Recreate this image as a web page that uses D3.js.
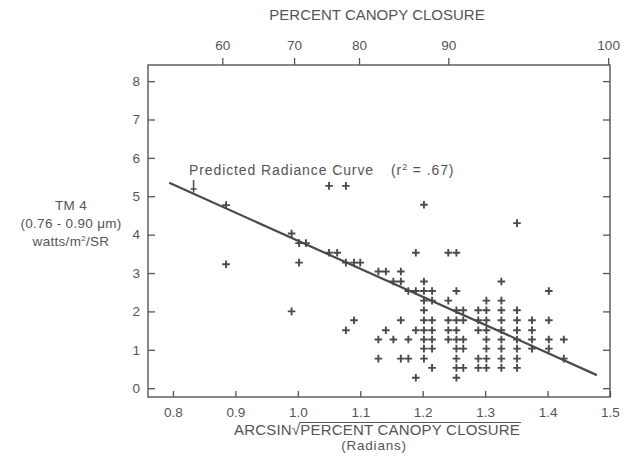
<!DOCTYPE html>
<html>
<head>
<meta charset="utf-8">
<script src="https://cdn.jsdelivr.net/npm/d3@7"></script>
<style>
  body { margin: 0; background: #fff; }
  text { font-family: "Liberation Sans", Arial, sans-serif; fill: #555; }
</style>
</head>
<body>
<div id="main"></div>
<script>
const ctx = {
    width: 633,
    height: 471,
    margin: {top: 65, right: 23, bottom: 74, left: 148}
};

// x of each column of points (radians) and the radiance values in that column
const colX = [0.885, 0.99, 1.002, 1.013, 1.05, 1.063, 1.077, 1.09, 1.10, 1.129, 1.141, 1.153, 1.165,
              1.177, 1.189, 1.202, 1.215, 1.241, 1.254, 1.265, 1.289, 1.302, 1.326, 1.351, 1.375, 1.402, 1.426];
const colY = [
    [4.77, 3.23],
    [4.03, 2.0],
    [3.78, 3.27],
    [3.78],
    [5.27, 3.53],
    [3.53],
    [5.27, 3.27, 1.51],
    [3.27, 1.77],
    [3.27],
    [3.04, 1.27, 0.77],
    [3.04, 1.51],
    [2.78, 1.27],
    [3.04, 2.78, 1.77, 0.77],
    [2.53, 1.27, 0.77],
    [3.53, 2.53, 1.51, 0.27],
    [4.78, 2.78, 2.53, 2.28, 2.03, 1.77, 1.51, 1.27, 1.03, 0.77],
    [2.53, 2.28, 1.77, 1.51, 1.27, 1.03, 0.53],
    [3.53, 2.28, 1.77, 1.51, 1.27],
    [3.53, 2.53, 2.03, 1.77, 1.51, 1.27, 1.03, 0.77, 0.53, 0.27],
    [2.03, 1.77, 1.27, 1.03, 0.53],
    [2.03, 1.77, 1.51, 0.77, 0.53],
    [2.28, 2.03, 1.77, 1.51, 1.27, 1.03, 0.77, 0.53],
    [2.78, 2.28, 2.03, 1.77, 1.51, 1.27, 1.03, 0.77, 0.53],
    [4.3, 2.03, 1.77, 1.51, 1.27, 1.03, 0.77, 0.53],
    [1.77, 1.51, 1.27, 1.03],
    [2.53, 1.77, 1.27, 1.03],
    [1.27, 0.77]
];

// predicted radiance curve
const fitX = [0.794, 1.479];
const fitY = [5.35, 0.34];

// point the annotation arrow marks
const arrowX = 0.833;
const arrowY = 5.19;

const bottomTicks = [0.8, 0.9, 1.0, 1.1, 1.2, 1.3, 1.4, 1.5];
const leftTicks = [0, 1, 2, 3, 4, 5, 6, 7, 8];
// top axis: percent canopy closure labels at their radian position
const topTickPos = [0.879, 0.994, 1.098, 1.241, 1.497];
const topTickLabels = ["60", "70", "80", "90", "100"];

function createViz() {
    const svg = d3.select("#main").append("svg")
        .attr("width", ctx.width)
        .attr("height", ctx.height);

    const x0 = ctx.margin.left, x1 = ctx.width - ctx.margin.right;
    const y0 = ctx.margin.top, y1 = ctx.height - ctx.margin.bottom;

    const x = d3.scaleLinear().domain([0.76, 1.5]).range([x0, x1]);
    const y = d3.scaleLinear().domain([-0.23, 8.42]).range([y1, y0]);

    // axes (ticks inside the frame except on top)
    const bottom = svg.append("g")
        .attr("transform", `translate(0,${y1})`)
        .call(d3.axisBottom(x).tickValues(bottomTicks).tickFormat(d3.format(".1f"))
            .tickSizeInner(-6).tickSizeOuter(0).tickPadding(10));
    const left = svg.append("g")
        .attr("transform", `translate(${x0},0)`)
        .call(d3.axisLeft(y).tickValues(leftTicks).tickSizeInner(-7).tickSizeOuter(0).tickPadding(8));
    const right = svg.append("g")
        .attr("transform", `translate(${x1},0)`)
        .call(d3.axisRight(y).tickValues(leftTicks).tickSizeInner(-7).tickSizeOuter(0).tickFormat(""));
    const top = svg.append("g")
        .attr("transform", `translate(0,${y0})`)
        .call(d3.axisTop(x).tickValues(topTickPos).tickFormat((d, i) => topTickLabels[i])
            .tickSizeInner(7).tickSizeOuter(0).tickPadding(8));

    [bottom, left, right, top].forEach(g => {
        g.select(".domain").remove();
        g.selectAll("line").attr("stroke", "#555").attr("stroke-width", 1.3);
        g.selectAll("text").style("font-size", "13.5px").attr("fill", "#555");
    });

    svg.append("rect")
        .attr("x", x0).attr("y", y0)
        .attr("width", x1 - x0).attr("height", y1 - y0)
        .attr("fill", "none")
        .attr("stroke", "#555")
        .attr("stroke-width", 1.4);

    // regression line
    const line = d3.line().x(d => x(d[0])).y(d => y(d[1]));
    svg.append("path")
        .datum(d3.zip(fitX, fitY))
        .attr("d", line)
        .attr("fill", "none")
        .attr("stroke", "#4a4a4a")
        .attr("stroke-width", 2.2);

    // data points as crosses
    const points = [];
    colX.forEach((cx, i) => colY[i].forEach(v => points.push([cx, v])));
    const r = 3.8;
    svg.append("g").selectAll("path")
        .data(points)
        .enter()
        .append("path")
        .attr("d", d => `M${x(d[0]) - r},${y(d[1])}H${x(d[0]) + r}M${x(d[0])},${y(d[1]) - r}V${y(d[1]) + r}`)
        .attr("stroke", "#4a4a4a")
        .attr("stroke-width", 1.9)
        .attr("fill", "none");

    // annotation
    const ann = svg.append("text")
        .attr("x", 189).attr("y", 175)
        .style("font-size", "14px")
        .style("letter-spacing", "0.9px");
    ann.append("tspan").text("Predicted Radiance Curve");
    ann.append("tspan").attr("x", 391).text("(r");
    ann.append("tspan").attr("dy", -5).style("font-size", "9px").text("2");
    ann.append("tspan").attr("dy", 5).text(" = .67)");

    svg.append("path")
        .attr("d", `M${x(arrowX)},${y(arrowY) - 9}V${y(arrowY) + 3.5}M${x(arrowX) - 3},${y(arrowY)}H${x(arrowX) + 3}`)
        .attr("stroke", "#4a4a4a")
        .attr("stroke-width", 1.5)
        .attr("fill", "none");

    // titles
    svg.append("text")
        .attr("x", 377).attr("y", 20)
        .attr("text-anchor", "middle")
        .style("font-size", "15px")
        .text("PERCENT CANOPY CLOSURE");

    const xt = svg.append("text")
        .attr("x", 377).attr("y", 435)
        .attr("text-anchor", "middle")
        .style("font-size", "15px")
        .style("letter-spacing", "0.2px");
    xt.append("tspan").text("ARCSIN");
    xt.append("tspan").text("\u221A");
    xt.append("tspan").text("PERCENT CANOPY CLOSURE");
    const node = xt.node();
    const n = node.getNumberOfChars();
    const ex = node.getEndPositionOfChar(n - 1).x;
    const root = node.getExtentOfChar(6);
    svg.append("line")
        .attr("x1", root.x + root.width - 1).attr("x2", ex + 1)
        .attr("y1", root.y + 1.5).attr("y2", root.y + 1.5)
        .attr("stroke", "#555").attr("stroke-width", 1.2);

    svg.append("text")
        .attr("x", 374).attr("y", 450)
        .attr("text-anchor", "middle")
        .style("font-size", "13.5px")
        .style("letter-spacing", "0.8px")
        .text("(Radians)");

    const yl = svg.append("text")
        .attr("text-anchor", "middle")
        .style("font-size", "13.5px")
        .style("letter-spacing", "0.3px");
    yl.append("tspan").attr("x", 71).attr("y", 210).text("TM 4");
    yl.append("tspan").attr("x", 71).attr("y", 228).text("(0.76 - 0.90 \u03BCm)");
    const w = yl.append("tspan").attr("x", 71).attr("y", 246);
    w.append("tspan").text("watts/m");
    w.append("tspan").attr("dy", -5).style("font-size", "8px").text("2");
    w.append("tspan").attr("dy", 5).text("/SR");
}

createViz();
</script>
</body>
</html>
